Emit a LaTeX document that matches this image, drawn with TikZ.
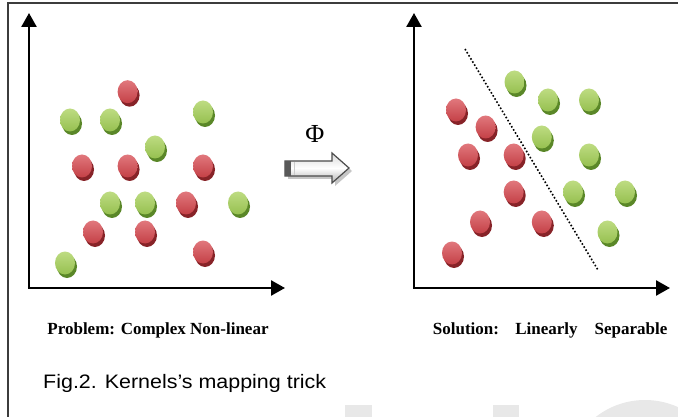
\documentclass[tikz,border=0pt]{standalone}
\usepackage{fontspec}
\setmainfont{Liberation Serif}
\setsansfont{Liberation Sans}
\usetikzlibrary{arrows.meta,shapes.geometric,shadows}
\definecolor{redbase}{RGB}{196,64,70}
\definecolor{redlight}{RGB}{225,120,125}
\definecolor{reddark}{RGB}{135,35,40}
\definecolor{grnbase}{RGB}{150,192,80}
\definecolor{grnlight}{RGB}{190,220,130}
\definecolor{grndark}{RGB}{90,135,40}
\definecolor{frame}{RGB}{60,60,60}
\tikzset{
  blob/.style={ellipse,minimum width=20pt,minimum height=23pt,inner sep=0pt},
  rdot/.style={blob,top color=redlight,bottom color=redbase,
    drop shadow={shadow xshift=2pt,shadow yshift=-3.5pt,fill=reddark,opacity=1}},
  gdot/.style={blob,top color=grnlight,bottom color=grnbase,
    drop shadow={shadow xshift=2pt,shadow yshift=-3.5pt,fill=grndark,opacity=1}},
  axis/.style={line width=2.5pt,-{Triangle[length=14pt,width=15pt]}},
  caption/.style={font=\bfseries\fontsize{17}{19}\selectfont,inner sep=0pt,anchor=base}
}
\begin{document}
\begin{tikzpicture}[x=1pt,y=-1pt]
\useasboundingbox (0,0) rectangle (678,417);
% watermark remnants
\begin{scope}
\clip (0,0) rectangle (678,417);
\fill[gray!18] (345,405) rectangle (372,420);
\fill[gray!18] (493,405) rectangle (519,420);
\fill[gray!18] (645,480) circle[radius=80];
\end{scope}
% frame
\draw[frame,line width=2pt] (7.5,420) -- (7.5,3.5) -- (680,3.5);
% left axes
\coordinate (lo) at (29,288);
\coordinate (ly) at (29,13);
\coordinate (lx) at (285,288);
\draw[axis] (lo) -- (ly);
\draw[axis] ([xshift=-1.25pt]lo) -- (lx);
% right axes
\coordinate (ro) at (414,288);
\coordinate (ry) at (414,13);
\coordinate (rx) at (670,288);
\draw[axis] (ro) -- (ry);
\draw[axis] ([xshift=-1.25pt]ro) -- (rx);
% left dots
\node[rdot] (l1) at (127.6,91.7) {};
\node[gdot] (l2) at (70,120) {};
\node[gdot] (l3) at (110,120) {};
\node[gdot] (l4) at (203,112) {};
\node[gdot] (l5) at (155,147) {};
\node[rdot] (l6) at (82,166) {};
\node[rdot] (l7) at (127.6,166) {};
\node[rdot] (l8) at (203,166) {};
\node[gdot] (l9) at (110,203) {};
\node[gdot] (l10) at (145,203) {};
\node[rdot] (l11) at (186,203) {};
\node[gdot] (l12) at (238,203) {};
\node[rdot] (l13) at (93,232) {};
\node[rdot] (l14) at (145,232) {};
\node[rdot] (l15) at (203,252) {};
\node[gdot] (l16) at (65,263) {};
% right dots
\node[gdot] (r1) at (514.5,82) {};
\node[gdot] (r2) at (548,100) {};
\node[gdot] (r3) at (589,100) {};
\node[rdot] (r4) at (456,110) {};
\node[rdot] (r5) at (485.6,127) {};
\node[gdot] (r6) at (541.8,137) {};
\node[rdot] (r7) at (468,155) {};
\node[rdot] (r8) at (513.7,155) {};
\node[gdot] (r9) at (589,155) {};
\node[rdot] (r10) at (513.7,192) {};
\node[gdot] (r11) at (573,192) {};
\node[gdot] (r12) at (625,192) {};
\node[rdot] (r13) at (480,222) {};
\node[rdot] (r14) at (541.8,222) {};
\node[gdot] (r15) at (607.5,232) {};
\node[rdot] (r16) at (452,253) {};
% separating line
\coordinate (s1) at (465,49);
\coordinate (s2) at (598,270);
\draw[line width=1.6pt,dotted] (s1) -- (s2);
% mapping arrow
\node[font=\fontsize{26}{28}\selectfont,inner sep=0pt] (phi) at (315,134) {Φ};
\fill[gray!45] (288,164) -- (335,164) -- (335,156) -- (352,171) -- (335,186) -- (335,179) -- (288,179) -- cycle;
\shade[top color=gray!30,bottom color=gray!60,middle color=white,draw=gray!60!black,line width=1.2pt]
  (285,161) -- (332,161) -- (332,153) -- (349,168) -- (332,183) -- (332,176) -- (285,176) -- cycle;
\fill[gray!70!black] (285,161) rectangle (291,176);
\draw[gray!40,line width=0.8pt] (294,162) -- (294,175);
% captions
\node[caption] (prob) at (158,334) {Problem: Complex Non-linear};
\node[caption] (sol) at (466,334) {Solution:};
\node[caption] (lin) at (546.5,334) {Linearly};
\node[caption] (sep) at (631,334) {Separable};
\node[font=\sffamily\fontsize{19.5}{22}\selectfont,inner sep=0pt,anchor=base west,xscale=1.1] (fig) at (43,388) {Fig.2. Kernels's mapping trick};
\end{tikzpicture}
\end{document}
